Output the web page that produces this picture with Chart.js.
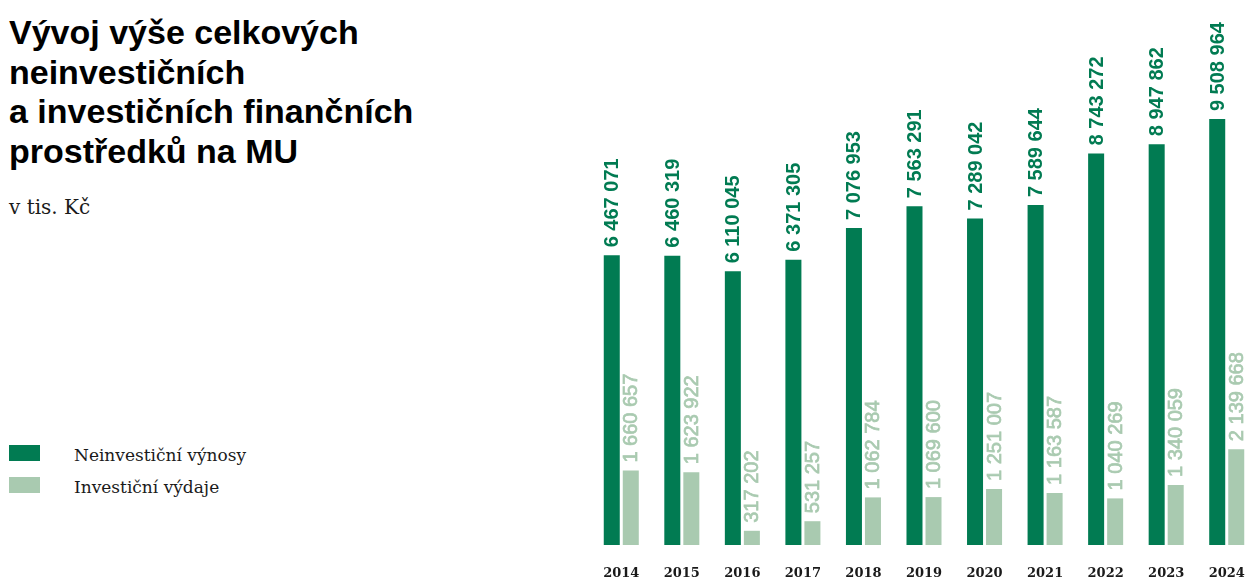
<!DOCTYPE html>
<html lang="cs">
<head>
<meta charset="utf-8">
<title>Vývoj výše celkových neinvestičních a investičních finančních prostředků na MU</title>
<script src="https://cdn.jsdelivr.net/npm/chart.js@4.4.1/dist/chart.umd.min.js"></script>
<style>
  html, body { margin: 0; padding: 0; background: #fff; }
  body { width: 1245px; height: 578px; position: relative; overflow: hidden; }
  .title { position: absolute; left: 9px; top: 13px; margin: 0; font: bold 34px/39.5px "Liberation Sans", Arial, sans-serif; color: #000; }
  .unit { position: absolute; left: 9px; top: 197px; font: 20px/20px "DejaVu Serif", serif; color: #1a1a1a; }
  .legend { position: absolute; left: 9px; top: 445px; font: 17px/20px "DejaVu Serif", serif; color: #1a1a1a; }
  .legend div { position: relative; height: 32px; padding-left: 65px; }
  .legend span { position: absolute; left: 0; top: 0; width: 31px; height: 16px; }
  #wrap { position: absolute; left: 591px; top: 0; width: 666px; height: 578px; }
</style>
</head>
<body>
<h1 class="title">Vývoj výše celkových<br>neinvestičních<br>a investičních finančních<br>prostředků na MU</h1>
<div class="unit">v tis. Kč</div>
<div class="legend" id="legend"></div>
<div id="wrap"><canvas id="chart"></canvas></div>

<script>
// data in thousands CZK
var years = ['2014', '2015', '2016', '2017', '2018', '2019', '2020', '2021', '2022', '2023', '2024'];
var neinvesticni = [6467071, 6460319, 6110045, 6371305, 7076953, 7563291, 7289042, 7589644, 8743272, 8947862, 9508964];
var investicni = [1660657, 1623922, 317202, 531257, 1062784, 1069600, 1251007, 1163587, 1040269, 1340059, 2139668];
var seriesNames = ['Neinvestiční výnosy', 'Investiční výdaje'];

var darkGreen = '#017b52';
var lightGreen = '#a9cab0';

var fmt = function(v) {
  return String(v).replace(/\B(?=(\d{3})+(?!\d))/g, ' ');
};

// legend as plain html
var legendEl = document.getElementById('legend');
[darkGreen, lightGreen].forEach(function(c, i) {
  var row = document.createElement('div');
  row.innerHTML = '<span style="background:' + c + '"></span>' + seriesNames[i];
  legendEl.appendChild(row);
});

// rotated value labels above each bar
var valueLabels = {
  id: 'valueLabels',
  afterDatasetsDraw: function(chart) {
    var ctx = chart.ctx;
    chart.data.datasets.forEach(function(ds, di) {
      var meta = chart.getDatasetMeta(di);
      meta.data.forEach(function(bar, i) {
        var txt = fmt(ds.data[i]);
        ctx.save();
        ctx.translate(bar.x, bar.y - 8);
        ctx.rotate(-Math.PI / 2);
        ctx.font = (di == 0 ? 'bold ' : '') + '20px "Liberation Sans", Arial, sans-serif';
        ctx.fillStyle = ds.backgroundColor;
        ctx.textAlign = 'left';
        ctx.textBaseline = 'middle';
        ctx.fillText(txt, 0, 1);
        if (di == 1) {
          // light labels are a bit heavier than regular
          ctx.strokeStyle = ds.backgroundColor;
          ctx.lineWidth = 0.7;
          ctx.strokeText(txt, 0, 1);
        }
        ctx.restore();
      });
    });
  }
};

var ctx = document.getElementById('chart').getContext('2d');
new Chart(ctx, {
  type: 'bar',
  data: {
    labels: years,
    datasets: [{
      label: seriesNames[0],
      data: neinvesticni,
      backgroundColor: darkGreen
    }, {
      label: seriesNames[1],
      data: investicni,
      backgroundColor: lightGreen
    }]
  },
  options: {
    responsive: true,
    maintainAspectRatio: false,
    animation: false,
    categoryPercentage: 38 / 60.5,
    barPercentage: 16 / 19,
    layout: { padding: { top: 12, left: 0, right: 0, bottom: 0 } },
    scales: {
      x: {
        grid: { display: false, drawTicks: false },
        border: { display: false },
        ticks: {
          color: '#1a1a1a',
          padding: 21,
          maxRotation: 0,
          font: { family: '"DejaVu Serif", serif', weight: 'bold', size: 13 }
        },
        afterFit: function(scale) {
          scale.height = 33;
          scale.paddingLeft = 0; // no extra side padding from tick padding
          scale.paddingRight = 0;
        }
      },
      y: {
        display: false,
        min: 0,
        max: 11900000
      }
    },
    plugins: {
      legend: { display: false },
      tooltip: { enabled: false }
    }
  },
  plugins: [valueLabels]
});
</script>
</body>
</html>
